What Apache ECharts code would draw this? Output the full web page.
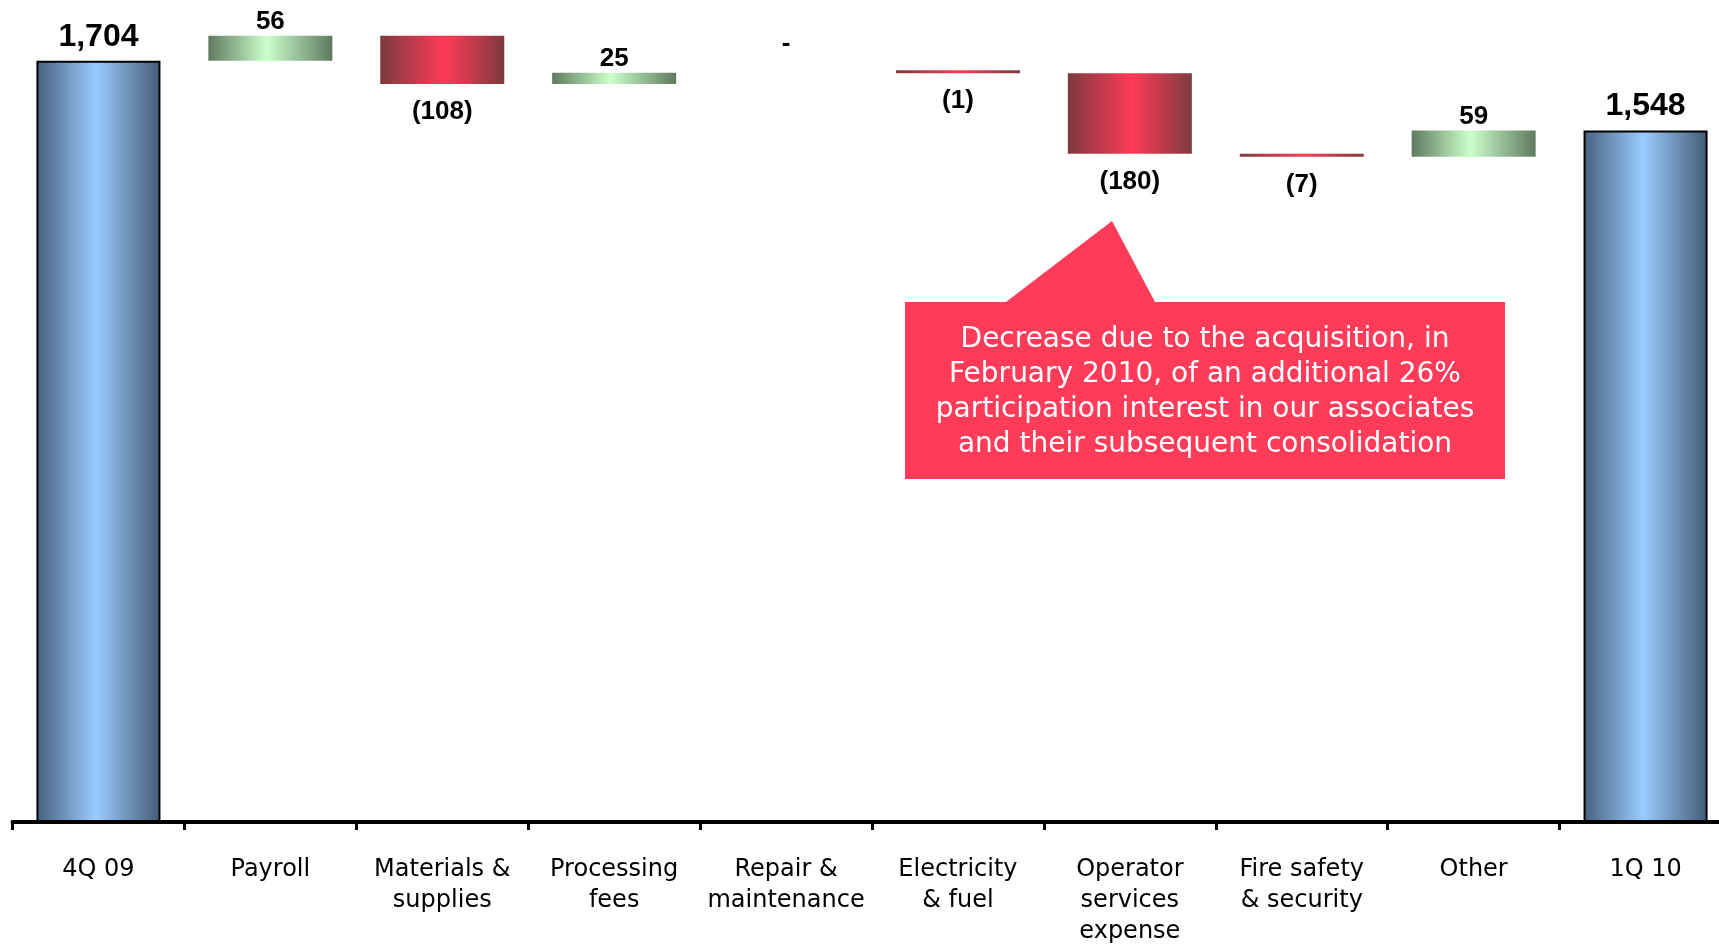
<!DOCTYPE html>
<html>
<head>
<meta charset="utf-8">
<script src="https://cdn.jsdelivr.net/npm/echarts@6/dist/echarts.min.js"></script>
<style>html,body{margin:0;padding:0;background:#fff;overflow:hidden}#c{width:1719px;height:944px}</style>
</head>
<body>
<div id="c"></div>
<script>
// ---- data ----
const categories = ['4Q 09', 'Payroll', 'Materials &\nsupplies', 'Processing\nfees', 'Repair &\nmaintenance',
  'Electricity\n& fuel', 'Operator\nservices\nexpense', 'Fire safety\n& security', 'Other', '1Q 10'];
const startTotal = 1704;
const changes = [56, -108, 25, 0, -1, -180, -7, 59];
const endTotal = 1548;
const valueLabels = ['1,704', '56', '(108)', '25', '-', '(1)', '(180)', '(7)', '59', '1,548'];
const calloutText = 'Decrease due to the acquisition, in\nFebruary 2010, of an additional 26%\nparticipation interest in our associates\nand their subsequent consolidation';

// ---- derived waterfall layout values ----
const base = [0], visible = [startTotal], kinds = ['total'];
let run = startTotal;
changes.forEach(c => {
  if (c >= 0) { base.push(run); visible.push(c); run += c; kinds.push(c > 0 ? 'up' : 'zero'); }
  else { run += c; base.push(run); visible.push(-c); kinds.push('down'); }
});
base.push(0); visible.push(endTotal); kinds.push('total');

const grad = (edgeL, mid, edgeR, pos) => new echarts.graphic.LinearGradient(0, 0, 1, 0, [
  { offset: 0, color: edgeL }, { offset: pos, color: mid }, { offset: 1, color: edgeR }]);
const blue = () => grad('#47607f', '#99ccff', '#445b76', 0.48);
const green = () => grad('#5f7a5f', '#ccffcc', '#5f7a5f', 0.47);
const red = () => grad('#7d3a3e', '#ff3b58', '#7d3a3e', 0.52);

const NUMFONT = '"Liberation Sans", Arial, sans-serif';
const items = visible.map((v, i) => {
  const k = kinds[i];
  const item = { value: v };
  if (k === 'total') {
    item.itemStyle = { color: blue(), borderColor: '#000', borderWidth: 2 };
    item.label = { show: true, position: 'top', distance: 8, fontSize: 32, formatter: valueLabels[i] };
  } else if (k === 'up') {
    item.itemStyle = { color: green() };
    item.label = { show: true, position: 'top', distance: 1, fontSize: 26, formatter: valueLabels[i] };
  } else if (k === 'down') {
    item.itemStyle = { color: red() };
    item.label = { show: true, position: 'bottom', distance: 15, fontSize: 26, formatter: valueLabels[i] };
  } else {
    item.itemStyle = { color: 'rgba(0,0,0,0)' };
    item.label = { show: true, position: 'top', distance: 13, fontSize: 26, formatter: valueLabels[i] };
  }
  return item;
});

const chart = echarts.init(document.getElementById('c'), null, { renderer: 'canvas' });
chart.setOption({
  animation: false,
  backgroundColor: '#ffffff',
  grid: { left: 12.5, width: 1719, top: 0, bottom: 122, containLabel: false, outerBoundsMode: 'none' },
  xAxis: {
    type: 'category',
    data: categories,
    axisLine: { show: true, lineStyle: { color: '#000', width: 4 } },
    axisTick: { show: true, length: 8, lineStyle: { color: '#000', width: 3 } },
    axisLabel: {
      color: '#000', fontSize: 24, lineHeight: 31, margin: 32, interval: 0,
      fontFamily: '"DejaVu Sans", sans-serif'
    }
  },
  yAxis: { type: 'value', min: 0, max: 1840, show: false, splitLine: { show: false } },
  series: [
    {
      type: 'bar', stack: 'w', data: base, barWidth: 124,
      itemStyle: { color: 'rgba(0,0,0,0)' }, silent: true
    },
    {
      type: 'bar', stack: 'w', data: items, barWidth: 124, barMinHeight: 3,
      label: { color: '#000', fontFamily: NUMFONT, fontWeight: 'bold' }
    }
  ],
  graphic: [
    {
      type: 'polygon',
      shape: { points: [[905, 302], [1006, 302], [1112, 221], [1155, 302], [1505, 302], [1505, 479], [905, 479]] },
      style: { fill: '#ff3b5a' }
    },
    {
      type: 'text', x: 1205, y: 392,
      style: {
        text: calloutText, fill: '#fff', font: '28px "DejaVu Sans", sans-serif',
        textAlign: 'center', textVerticalAlign: 'middle', lineHeight: 35
      }
    }
  ]
});
</script>
</body>
</html>
